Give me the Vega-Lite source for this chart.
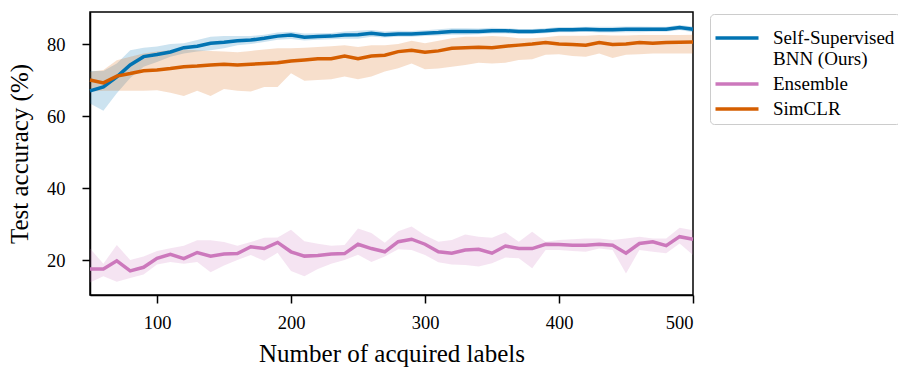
{
  "$schema": "https://vega.github.io/schema/vega-lite/v6.json",
  "width": 603,
  "height": 283,
  "autosize": {"type": "none"},
  "padding": {"left": 90, "top": 12, "right": 205, "bottom": 76},
  "background": "white",
  "config": {
    "font": "Liberation Serif",
    "view": {"stroke": "black", "strokeWidth": 1.5},
    "axis": {
      "grid": false,
      "domainColor": "black",
      "domainWidth": 1.5,
      "tickColor": "black",
      "tickWidth": 1.5,
      "tickSize": 8,
      "labelColor": "black",
      "titleColor": "black",
      "labelFontSize": 18.5,
      "titleFontSize": 25,
      "titleFontWeight": "normal"
    },
    "legend": {
      "labelFont": "Liberation Serif"
    }
  },
  "data": {
    "values": [
      {"x":50,"m":"B","y":67.0,"lo":63.5,"hi":72.5},
      {"x":60,"m":"B","y":68.1,"lo":61.5,"hi":72.5},
      {"x":70,"m":"B","y":70.9,"lo":66.3,"hi":74.6},
      {"x":80,"m":"B","y":74.2,"lo":70.6,"hi":78.3},
      {"x":90,"m":"B","y":76.5,"lo":73.7,"hi":79.0},
      {"x":100,"m":"B","y":77.1,"lo":75.0,"hi":79.3},
      {"x":110,"m":"B","y":77.8,"lo":76.5,"hi":80.0},
      {"x":120,"m":"B","y":79.0,"lo":77.4,"hi":80.2},
      {"x":130,"m":"B","y":79.4,"lo":77.9,"hi":81.1},
      {"x":140,"m":"B","y":80.2,"lo":78.3,"hi":82.0},
      {"x":150,"m":"B","y":80.5,"lo":78.8,"hi":82.2},
      {"x":160,"m":"B","y":80.9,"lo":79.7,"hi":82.2},
      {"x":170,"m":"B","y":81.1,"lo":80.0,"hi":82.2},
      {"x":180,"m":"B","y":81.6,"lo":80.6,"hi":82.6},
      {"x":190,"m":"B","y":82.2,"lo":81.2,"hi":83.2},
      {"x":200,"m":"B","y":82.5,"lo":81.4,"hi":83.4},
      {"x":210,"m":"B","y":81.9,"lo":81.0,"hi":82.9},
      {"x":220,"m":"B","y":82.1,"lo":81.2,"hi":83.0},
      {"x":230,"m":"B","y":82.2,"lo":81.3,"hi":83.1},
      {"x":240,"m":"B","y":82.5,"lo":81.5,"hi":83.5},
      {"x":250,"m":"B","y":82.6,"lo":81.5,"hi":83.7},
      {"x":260,"m":"B","y":83.0,"lo":82.0,"hi":83.9},
      {"x":270,"m":"B","y":82.6,"lo":81.8,"hi":83.5},
      {"x":280,"m":"B","y":82.8,"lo":82.0,"hi":83.7},
      {"x":290,"m":"B","y":82.8,"lo":82.0,"hi":83.6},
      {"x":300,"m":"B","y":83.0,"lo":82.2,"hi":83.8},
      {"x":310,"m":"B","y":83.2,"lo":82.4,"hi":84.1},
      {"x":320,"m":"B","y":83.5,"lo":82.6,"hi":84.4},
      {"x":330,"m":"B","y":83.5,"lo":82.6,"hi":84.4},
      {"x":340,"m":"B","y":83.5,"lo":82.7,"hi":84.3},
      {"x":350,"m":"B","y":83.7,"lo":82.9,"hi":84.5},
      {"x":360,"m":"B","y":83.7,"lo":82.9,"hi":84.4},
      {"x":370,"m":"B","y":83.5,"lo":82.8,"hi":84.2},
      {"x":380,"m":"B","y":83.5,"lo":82.8,"hi":84.2},
      {"x":390,"m":"B","y":83.7,"lo":83.0,"hi":84.4},
      {"x":400,"m":"B","y":84.0,"lo":83.3,"hi":84.7},
      {"x":410,"m":"B","y":84.0,"lo":83.3,"hi":84.7},
      {"x":420,"m":"B","y":84.1,"lo":83.4,"hi":84.8},
      {"x":430,"m":"B","y":84.0,"lo":83.2,"hi":84.8},
      {"x":440,"m":"B","y":84.0,"lo":83.2,"hi":84.8},
      {"x":450,"m":"B","y":84.1,"lo":83.3,"hi":84.9},
      {"x":460,"m":"B","y":84.1,"lo":83.3,"hi":84.9},
      {"x":470,"m":"B","y":84.1,"lo":83.4,"hi":84.8},
      {"x":480,"m":"B","y":84.1,"lo":83.4,"hi":84.8},
      {"x":490,"m":"B","y":84.6,"lo":83.9,"hi":85.3},
      {"x":500,"m":"B","y":84.1,"lo":83.3,"hi":84.9},
      {"x":50,"m":"E","y":17.5,"lo":13.8,"hi":23.2},
      {"x":60,"m":"E","y":17.5,"lo":15.5,"hi":19.0},
      {"x":70,"m":"E","y":19.8,"lo":14.0,"hi":24.2},
      {"x":80,"m":"E","y":17.0,"lo":15.0,"hi":20.0},
      {"x":90,"m":"E","y":18.0,"lo":16.0,"hi":21.0},
      {"x":100,"m":"E","y":20.5,"lo":18.8,"hi":22.5},
      {"x":110,"m":"E","y":21.6,"lo":19.5,"hi":23.3},
      {"x":120,"m":"E","y":20.4,"lo":19.0,"hi":24.0},
      {"x":130,"m":"E","y":22.1,"lo":19.5,"hi":25.5},
      {"x":140,"m":"E","y":21.1,"lo":16.6,"hi":25.5},
      {"x":150,"m":"E","y":21.7,"lo":18.5,"hi":25.0},
      {"x":160,"m":"E","y":21.8,"lo":20.0,"hi":24.0},
      {"x":170,"m":"E","y":23.7,"lo":21.4,"hi":25.0},
      {"x":180,"m":"E","y":23.2,"lo":19.8,"hi":26.2},
      {"x":190,"m":"E","y":24.9,"lo":22.0,"hi":26.3},
      {"x":200,"m":"E","y":22.3,"lo":17.0,"hi":28.4},
      {"x":210,"m":"E","y":21.1,"lo":15.5,"hi":25.2},
      {"x":220,"m":"E","y":21.3,"lo":17.5,"hi":24.5},
      {"x":230,"m":"E","y":21.7,"lo":19.0,"hi":24.0},
      {"x":240,"m":"E","y":21.8,"lo":20.0,"hi":24.2},
      {"x":250,"m":"E","y":24.4,"lo":21.5,"hi":28.8},
      {"x":260,"m":"E","y":23.2,"lo":19.5,"hi":27.5},
      {"x":270,"m":"E","y":22.3,"lo":21.0,"hi":24.8},
      {"x":280,"m":"E","y":25.1,"lo":23.0,"hi":28.0},
      {"x":290,"m":"E","y":25.8,"lo":22.8,"hi":29.3},
      {"x":300,"m":"E","y":24.4,"lo":21.4,"hi":26.9},
      {"x":310,"m":"E","y":22.3,"lo":19.4,"hi":25.1},
      {"x":320,"m":"E","y":21.9,"lo":18.8,"hi":25.6},
      {"x":330,"m":"E","y":22.8,"lo":18.6,"hi":27.1},
      {"x":340,"m":"E","y":23.0,"lo":18.2,"hi":26.5},
      {"x":350,"m":"E","y":21.9,"lo":19.1,"hi":26.2},
      {"x":360,"m":"E","y":23.9,"lo":20.7,"hi":27.7},
      {"x":370,"m":"E","y":23.2,"lo":20.5,"hi":25.1},
      {"x":380,"m":"E","y":23.2,"lo":17.7,"hi":27.9},
      {"x":390,"m":"E","y":24.4,"lo":22.8,"hi":25.1},
      {"x":400,"m":"E","y":24.3,"lo":22.8,"hi":25.6},
      {"x":410,"m":"E","y":24.1,"lo":22.5,"hi":25.8},
      {"x":420,"m":"E","y":24.1,"lo":22.3,"hi":26.0},
      {"x":430,"m":"E","y":24.4,"lo":23.2,"hi":26.0},
      {"x":440,"m":"E","y":24.1,"lo":22.8,"hi":25.6},
      {"x":450,"m":"E","y":21.9,"lo":16.3,"hi":26.0},
      {"x":460,"m":"E","y":24.6,"lo":22.8,"hi":26.5},
      {"x":470,"m":"E","y":25.1,"lo":22.3,"hi":26.0},
      {"x":480,"m":"E","y":24.0,"lo":21.9,"hi":26.0},
      {"x":490,"m":"E","y":26.5,"lo":24.6,"hi":29.0},
      {"x":500,"m":"E","y":25.8,"lo":21.4,"hi":28.3},
      {"x":50,"m":"S","y":70.0,"lo":66.8,"hi":72.3},
      {"x":60,"m":"S","y":69.2,"lo":67.0,"hi":72.8},
      {"x":70,"m":"S","y":71.1,"lo":67.0,"hi":75.5},
      {"x":80,"m":"S","y":71.8,"lo":67.0,"hi":76.5},
      {"x":90,"m":"S","y":72.6,"lo":67.0,"hi":77.4},
      {"x":100,"m":"S","y":72.8,"lo":67.2,"hi":77.9},
      {"x":110,"m":"S","y":73.2,"lo":66.5,"hi":78.3},
      {"x":120,"m":"S","y":73.7,"lo":65.6,"hi":78.5},
      {"x":130,"m":"S","y":73.9,"lo":67.0,"hi":78.3},
      {"x":140,"m":"S","y":74.2,"lo":65.6,"hi":78.1},
      {"x":150,"m":"S","y":74.4,"lo":67.5,"hi":77.9},
      {"x":160,"m":"S","y":74.2,"lo":67.0,"hi":77.7},
      {"x":170,"m":"S","y":74.4,"lo":66.8,"hi":78.1},
      {"x":180,"m":"S","y":74.6,"lo":68.1,"hi":78.5},
      {"x":190,"m":"S","y":74.8,"lo":68.1,"hi":78.8},
      {"x":200,"m":"S","y":75.3,"lo":71.9,"hi":78.8},
      {"x":210,"m":"S","y":75.6,"lo":69.8,"hi":79.0},
      {"x":220,"m":"S","y":75.9,"lo":70.0,"hi":79.2},
      {"x":230,"m":"S","y":75.9,"lo":70.2,"hi":79.4},
      {"x":240,"m":"S","y":76.7,"lo":71.0,"hi":79.7},
      {"x":250,"m":"S","y":75.9,"lo":70.2,"hi":79.2},
      {"x":260,"m":"S","y":76.7,"lo":71.0,"hi":79.7},
      {"x":270,"m":"S","y":76.9,"lo":72.4,"hi":79.7},
      {"x":280,"m":"S","y":77.9,"lo":73.3,"hi":80.0},
      {"x":290,"m":"S","y":78.3,"lo":74.6,"hi":80.9},
      {"x":300,"m":"S","y":77.7,"lo":73.0,"hi":80.2},
      {"x":310,"m":"S","y":78.1,"lo":73.2,"hi":80.9},
      {"x":320,"m":"S","y":78.8,"lo":73.7,"hi":81.6},
      {"x":330,"m":"S","y":79.0,"lo":74.2,"hi":82.0},
      {"x":340,"m":"S","y":79.1,"lo":74.8,"hi":82.0},
      {"x":350,"m":"S","y":79.0,"lo":74.6,"hi":82.2},
      {"x":360,"m":"S","y":79.4,"lo":74.8,"hi":82.0},
      {"x":370,"m":"S","y":79.7,"lo":75.6,"hi":81.6},
      {"x":380,"m":"S","y":80.0,"lo":75.8,"hi":81.6},
      {"x":390,"m":"S","y":80.4,"lo":77.0,"hi":81.9},
      {"x":400,"m":"S","y":80.0,"lo":77.2,"hi":82.3},
      {"x":410,"m":"S","y":79.9,"lo":76.7,"hi":82.3},
      {"x":420,"m":"S","y":79.7,"lo":76.5,"hi":82.3},
      {"x":430,"m":"S","y":80.4,"lo":77.4,"hi":82.5},
      {"x":440,"m":"S","y":79.9,"lo":76.1,"hi":82.4},
      {"x":450,"m":"S","y":80.0,"lo":77.0,"hi":82.4},
      {"x":460,"m":"S","y":80.4,"lo":77.2,"hi":82.5},
      {"x":470,"m":"S","y":80.2,"lo":77.4,"hi":82.5},
      {"x":480,"m":"S","y":80.4,"lo":77.4,"hi":82.5},
      {"x":490,"m":"S","y":80.5,"lo":77.4,"hi":82.5},
      {"x":500,"m":"S","y":80.6,"lo":77.4,"hi":82.6}
    ]
  },
  "encoding": {
    "x": {
      "field": "x", "type": "quantitative",
      "scale": {"domain": [50, 500], "nice": false, "zero": false},
      "axis": {"values": [100, 200, 300, 400, 500], "title": "Number of acquired labels", "labelPadding": 10, "titlePadding": 10, "labelFont": "Liberation Serif", "titleFont": "Liberation Serif"}
    }
  },
  "layer": [
    {
      "mark": {"type": "area", "fillOpacity": 0.2},
      "encoding": {
        "y": {
          "field": "lo", "type": "quantitative",
          "scale": {"domain": [10.3, 88.9], "nice": false, "zero": false},
          "axis": {"values": [20, 40, 60, 80], "title": "Test accuracy (%)", "labelPadding": 17, "titlePadding": 14, "labelFont": "Liberation Serif", "titleFont": "Liberation Serif"}
        },
        "y2": {"field": "hi"},
        "color": {
          "field": "m", "type": "nominal",
          "scale": {"domain": ["B", "E", "S"], "range": ["#0173b2", "#cc78bc", "#d55e00"]}
        }
      }
    },
    {
      "mark": {"type": "line", "strokeWidth": 3.5},
      "encoding": {
        "y": {"field": "y", "type": "quantitative"},
        "color": {
          "field": "m", "type": "nominal",
          "legend": {
            "title": " ",
            "titleFontSize": 2,
            "titlePadding": 5,
            "orient": "none",
            "legendX": 620,
            "legendY": 2,
            "padding": 5,
            "fillColor": "white",
            "strokeColor": "#cccccc",
            "cornerRadius": 4,
            "symbolType": "M-2.15,0H2.15",
            "symbolStrokeWidth": 3.5,
            "symbolSize": 400,
            "symbolOffset": 10,
            "labelOffset": 24,
            "labelFontSize": 19,
            "labelColor": "black",
            "labelLimit": 300,
            "rowPadding": 3,
            "gridAlign": "none",
            "labelExpr": "datum.label == 'B' ? ['Self-Supervised', 'BNN (Ours)'] : datum.label == 'E' ? 'Ensemble' : 'SimCLR'",
            "encode": {
              "symbols": {"update": {"opacity": {"value": 1}, "strokeOpacity": {"value": 1}}}
            }
          }
        }
      }
    }
  ]
}
